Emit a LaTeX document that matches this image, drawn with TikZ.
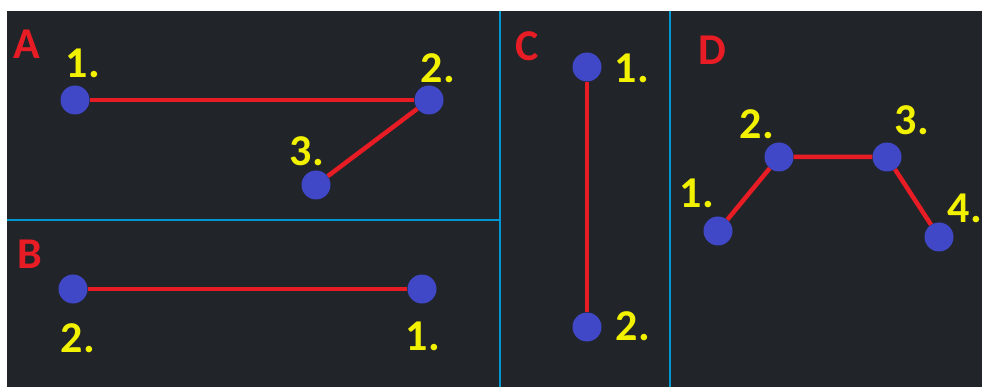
\documentclass[tikz,border=0pt]{standalone}
\usepackage{fontspec}
\setmainfont{Carlito}
\usepackage{tikz}
\usetikzlibrary{positioning}
\definecolor{bgdark}{RGB}{33,36,41}
\definecolor{dotblue}{RGB}{64,72,200}
\definecolor{linkred}{RGB}{232,28,36}
\definecolor{numyellow}{RGB}{242,242,0}
\definecolor{divblue}{RGB}{0,150,210}
\tikzset{
  dot/.style={circle, fill=dotblue, draw=none, minimum size=29pt, inner sep=0pt},
  link/.style={draw=linkred, line width=4.5pt},
  numlabel/.style={font=\fontsize{44}{48}\selectfont\bfseries, text=numyellow, inner sep=0pt},
  panelletter/.style={font=\fontsize{44}{48}\selectfont\bfseries, text=linkred, inner sep=0pt},
  divider/.style={draw=divblue, line width=1.5pt}
}
\begin{document}
\begin{tikzpicture}[x=1pt, y=-1pt]
  % Background
  \fill[white] (0,0) rectangle (982,387);
  \fill[bgdark] (7,11) rectangle (982,387);
  \useasboundingbox (0,0) rectangle (982,387);

  % Panel dividers
  \draw[divider] (7,220) -- (500,220);
  \draw[divider] (500,11) -- (500,387);
  \draw[divider] (670,11) -- (670,387);

  % Panel A
  \node[panelletter] (lA) at (27,44) {A};
  \node[dot] (a1) at (75,100) {};
  \node[dot] (a2) at (429,100) {};
  \node[dot] (a3) at (316,185) {};
  \draw[link] (a1) -- (a2);
  \draw[link] (a2) -- (a3);
  \node[numlabel] (na1) at (83,63) {1.};
  \node[numlabel] (na2) at (438,68) {2.};
  \node[numlabel] (na3) at (307,151) {3.};

  % Panel B
  \node[panelletter] (lB) at (30,254) {B};
  \node[dot] (b2) at (73,289) {};
  \node[dot] (b1) at (422,289) {};
  \draw[link] (b2) -- (b1);
  \node[numlabel] (nb2) at (78,338) {2.};
  \node[numlabel] (nb1) at (423,336) {1.};

  % Panel C
  \node[panelletter] (lC) at (527,46) {C};
  \node[dot] (c1) at (587,67) {};
  \node[dot] (c2) at (587,327) {};
  \draw[link] (c1) -- (c2);
  \node[numlabel] (nc1) at (632,68) {1.};
  \node[numlabel] (nc2) at (633,326) {2.};

  % Panel D
  \node[panelletter] (lD) at (712,50) {D};
  \node[dot] (d1) at (718,231) {};
  \node[dot] (d2) at (779,157) {};
  \node[dot] (d3) at (887,157) {};
  \node[dot] (d4) at (939,237) {};
  \draw[link] (d1) -- (d2) -- (d3) -- (d4);
  \node[numlabel] (nd1) at (697,193) {1.};
  \node[numlabel] (nd2) at (757,124) {2.};
  \node[numlabel] (nd3) at (912,120) {3.};
  \node[numlabel] (nd4) at (965,208) {4.};
\end{tikzpicture}
\end{document}
